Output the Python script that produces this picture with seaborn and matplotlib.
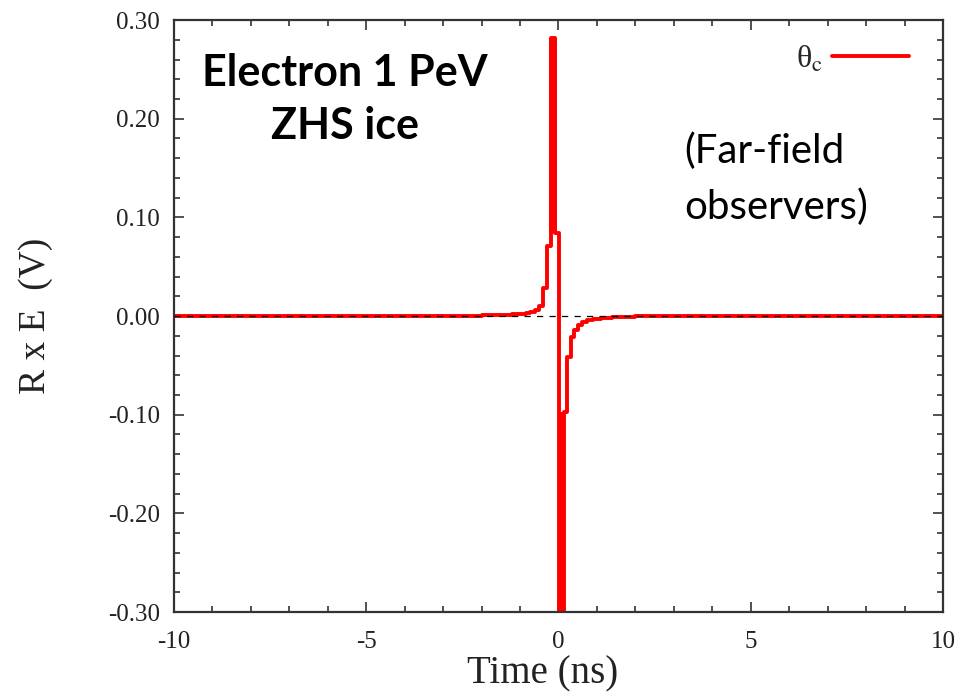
# radio pulse of 1 PeV electron shower, ZHS ice, Cherenkov angle
import numpy as np
import pandas as pd
import matplotlib
matplotlib.use('Agg')
import matplotlib.pyplot as plt
from matplotlib.ticker import MultipleLocator, FormatStrFormatter
import seaborn as sns

# step trace (ns, V)
time_ns = [-10.0, -3.0, -2.0, -1.5, -1.2, -1.0, -0.85, -0.74, -0.61, -0.50,
           -0.40, -0.30, -0.19, -0.09, 0.01, 0.14, 0.22, 0.32, 0.41, 0.51,
           0.62, 0.75, 0.90, 1.10, 1.40, 2.0, 10.0]
field_V = [0.0, 0.0005, 0.001, 0.0015, 0.002, 0.0025, 0.003, 0.004, 0.006, 0.010,
           0.028, 0.071, 0.282, 0.084, -0.32, -0.097, -0.041, -0.021, -0.014, -0.009,
           -0.006, -0.004, -0.003, -0.002, -0.001, 0.0, 0.0]

# the two narrow spikes (drawn as solid blocks)
spike_time = [-0.14, 0.08]
spike_low = [0.084, -0.097]
spike_high = [0.282, -0.32]
spike_width = 0.2

legend_label = 'θ$_{\\rm c}$'

df = pd.DataFrame({'t': time_ns, 'E': field_V})

sns.set_style('ticks')
plt.rcParams['font.family'] = ['Liberation Serif', 'DejaVu Serif']
plt.rcParams['mathtext.fontset'] = 'stix'

fig = plt.figure(figsize=(9.62, 6.98), dpi=100)
ax = fig.add_axes([0.1809, 0.1232, 0.7993, 0.848])

sns.lineplot(data=df, x='t', y='E', ax=ax, color='#ff0000', linewidth=2.8,
             drawstyle='steps-post', sort=False, estimator=None, label=legend_label)
heights = np.array(spike_high) - np.array(spike_low)
ax.bar(spike_time, heights, bottom=spike_low, width=spike_width,
       color='#ff0000', linewidth=0)

# zero line
ax.axhline(0, color='black', linewidth=0.9, linestyle=(0, (5, 5)), zorder=5)

ax.set_xlim(-10, 10)
ax.set_ylim(-0.30, 0.30)
ax.xaxis.set_major_locator(MultipleLocator(5))
ax.xaxis.set_minor_locator(MultipleLocator(1))
ax.yaxis.set_major_locator(MultipleLocator(0.1))
ax.yaxis.set_minor_locator(MultipleLocator(0.02))
ax.yaxis.set_major_formatter(FormatStrFormatter('%.2f'))
ax.xaxis.set_major_formatter(FormatStrFormatter('%d'))

ax.tick_params(which='both', direction='in', top=True, right=True,
               color='#333333', width=1.2)
ax.tick_params(which='major', length=7, labelsize=18, labelcolor='#222222')
ax.tick_params(axis='y', which='major', pad=10)
ax.tick_params(axis='x', which='major', pad=14)
ax.tick_params(which='minor', length=4)
for s in ax.spines.values():
    s.set_color('#333333')
    s.set_linewidth(1.6)

ax.set_xlabel('Time (ns)', fontsize=28, color='#222222')
ax.xaxis.set_label_coords(0.479, -0.074)
ax.set_ylabel('R x E  (V)', fontsize=27, color='#222222', labelpad=40)

leg = ax.legend(loc='upper right', bbox_to_anchor=(0.993, 1.008), frameon=False,
                markerfirst=False, fontsize=23, handlelength=2.4, handletextpad=0.3)

ax.text(0.222, 0.945, 'Electron 1 PeV\nZHS ice', transform=ax.transAxes,
        ha='center', va='top', fontsize=31, fontweight='bold', family='Lato',
        color='black', linespacing=1.4)
ax.text(0.663, 0.81, '(Far-field\nobservers)', transform=ax.transAxes,
        ha='left', va='top', fontsize=29, family='Lato', color='black',
        linespacing=1.6)

plt.savefig('out.png', dpi=100)
